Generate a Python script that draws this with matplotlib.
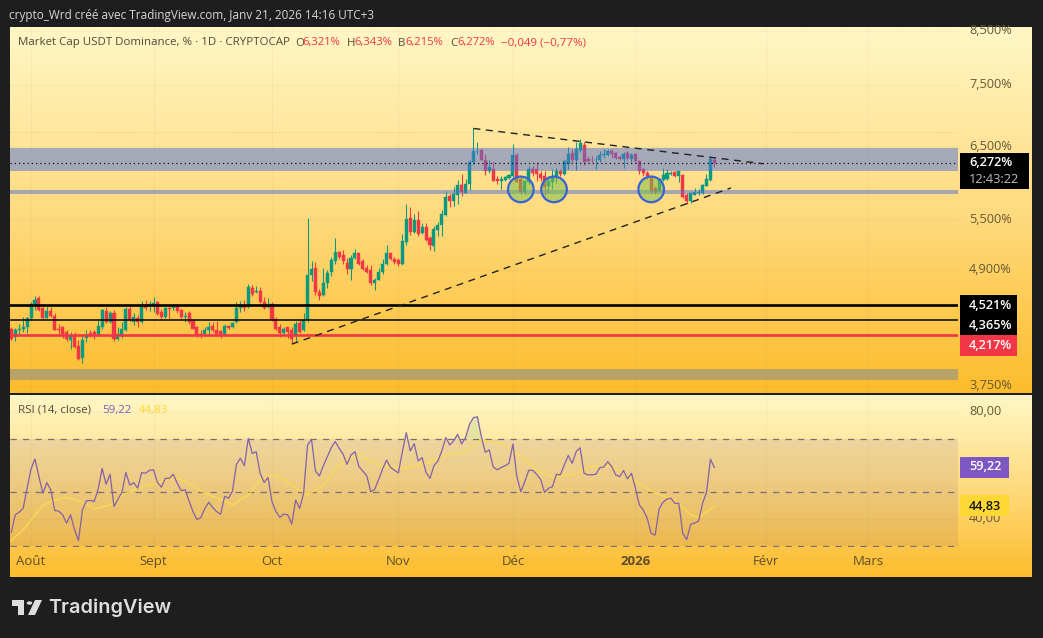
import numpy as np
import matplotlib
matplotlib.use("Agg")
import matplotlib.pyplot as plt
from matplotlib.colors import LinearSegmentedColormap
from matplotlib.patches import Rectangle, Polygon, Circle
from matplotlib.ticker import FixedLocator, FixedFormatter, NullLocator
from matplotlib.transforms import ScaledTranslation

plt.rcParams['font.family'] = ['Open Sans', 'DejaVu Sans']

opens = [4.28,4.20,4.27,4.28,4.30,4.39,4.53,4.59,4.49,4.39,4.46,4.41,4.28,4.30,4.25,4.17,4.22,4.11,4.00,4.19,
 4.24,4.25,4.23,4.30,4.46,4.35,4.44,4.18,4.22,4.27,4.48,4.35,4.39,4.35,4.52,4.51,4.51,4.55,4.45,4.40,
 4.49,4.49,4.52,4.47,4.40,4.44,4.36,4.30,4.23,4.23,4.27,4.31,4.27,4.26,4.23,4.31,4.30,4.35,4.49,4.52,
 4.50,4.70,4.66,4.67,4.55,4.50,4.53,4.38,4.30,4.24,4.30,4.27,4.21,4.34,4.27,4.37,4.84,4.92,4.66,4.62,
 4.75,4.88,5.00,5.11,5.07,4.98,4.91,5.04,5.10,5.00,4.92,4.90,4.75,4.79,4.88,4.97,5.09,5.03,5.01,4.97,
 5.23,5.52,5.35,5.50,5.33,5.41,5.28,5.18,5.37,5.43,5.56,5.81,5.74,5.83,5.96,5.85,5.97,6.29,6.44,6.46,
 6.32,6.15,6.19,6.04,6.01,6.03,6.06,6.09,6.39,6.05,5.87,6.00,6.18,6.18,6.12,6.08,5.95,6.00,6.08,6.16,
 6.11,6.26,6.41,6.31,6.46,6.54,6.33,6.32,6.31,6.31,6.38,6.39,6.45,6.42,6.36,6.33,6.42,6.33,6.40,6.30,
 6.18,6.13,6.08,5.92,5.88,6.03,6.05,6.11,6.14,6.09,6.10,5.82,5.75,5.83,5.85,5.85,5.95,6.03,6.321]
highs = [4.30,4.29,4.33,4.40,4.40,4.55,4.61,4.61,4.50,4.51,4.50,4.44,4.33,4.31,4.27,4.25,4.25,4.17,4.21,4.27,
 4.27,4.27,4.38,4.48,4.50,4.46,4.47,4.30,4.35,4.50,4.51,4.44,4.42,4.56,4.57,4.56,4.60,4.56,4.48,4.50,
 4.50,4.53,4.53,4.48,4.45,4.46,4.38,4.31,4.27,4.30,4.35,4.35,4.36,4.27,4.33,4.32,4.35,4.55,4.56,4.57,
 4.74,4.73,4.72,4.71,4.60,4.59,4.55,4.40,4.33,4.30,4.30,4.30,4.36,4.37,4.44,5.52,5.00,4.99,4.69,4.92,
 4.90,5.05,5.27,5.12,5.13,5.04,5.07,5.14,5.10,5.02,4.96,4.96,4.81,4.92,5.03,5.19,5.10,5.05,5.04,5.32,
 5.71,5.67,5.57,5.61,5.46,5.46,5.30,5.42,5.47,5.63,5.88,5.84,5.93,6.03,6.11,6.04,6.32,6.79,6.58,6.47,
 6.40,6.32,6.30,6.09,6.09,6.09,6.11,6.55,6.42,6.09,6.03,6.22,6.22,6.28,6.16,6.16,6.09,6.19,6.20,6.18,
 6.32,6.50,6.47,6.58,6.63,6.58,6.37,6.37,6.37,6.45,6.47,6.48,6.47,6.43,6.38,6.43,6.44,6.42,6.42,6.32,
 6.20,6.16,6.09,5.95,6.06,6.20,6.18,6.15,6.16,6.17,6.11,5.85,5.87,5.92,5.90,5.97,6.11,6.37,6.343]
lows = [4.17,4.16,4.23,4.25,4.24,4.37,4.47,4.46,4.38,4.39,4.40,4.27,4.23,4.19,4.16,4.08,4.09,3.98,3.95,4.15,
 4.20,4.18,4.22,4.28,4.34,4.34,4.16,4.17,4.19,4.26,4.36,4.32,4.30,4.34,4.47,4.46,4.45,4.42,4.38,4.39,
 4.38,4.47,4.44,4.37,4.35,4.33,4.28,4.20,4.19,4.21,4.22,4.25,4.22,4.19,4.22,4.28,4.29,4.34,4.45,4.46,
 4.49,4.61,4.65,4.54,4.48,4.49,4.36,4.27,4.20,4.23,4.19,4.14,4.16,4.24,4.26,4.35,4.78,4.62,4.57,4.61,
 4.70,4.83,4.97,5.03,4.97,4.85,4.79,5.02,4.96,4.90,4.87,4.73,4.68,4.79,4.85,4.96,5.01,4.97,4.95,4.96,
 5.19,5.31,5.33,5.30,5.32,5.24,5.13,5.12,5.30,5.30,5.55,5.67,5.68,5.70,5.81,5.85,5.89,6.25,6.40,6.31,
 6.10,6.13,6.01,5.97,5.90,6.02,6.04,6.07,6.00,5.84,5.84,5.98,6.08,6.02,6.02,5.82,5.85,5.91,5.99,6.09,
 6.10,6.18,6.29,6.17,6.43,6.24,6.28,6.28,6.18,6.29,6.35,6.37,6.35,6.33,6.32,6.20,6.32,6.29,6.27,6.11,
 6.09,6.05,5.85,5.84,5.86,6.02,6.03,6.10,6.07,6.00,5.79,5.70,5.72,5.82,5.82,5.84,5.94,6.02,6.215]
closes = [4.18,4.27,4.28,4.30,4.39,4.53,4.57,4.47,4.39,4.46,4.41,4.27,4.27,4.23,4.18,4.22,4.10,3.99,4.17,4.22,
 4.22,4.22,4.31,4.47,4.35,4.44,4.18,4.23,4.28,4.48,4.37,4.40,4.35,4.52,4.49,4.53,4.54,4.43,4.40,4.49,
 4.48,4.52,4.46,4.40,4.41,4.35,4.28,4.22,4.22,4.27,4.30,4.27,4.23,4.22,4.31,4.29,4.34,4.49,4.52,4.49,
 4.71,4.64,4.67,4.55,4.49,4.52,4.37,4.28,4.24,4.28,4.25,4.18,4.33,4.25,4.37,4.84,4.91,4.66,4.61,4.75,
 4.87,5.01,5.11,5.05,5.00,4.91,5.04,5.09,4.97,4.91,4.88,4.75,4.79,4.88,4.97,5.09,5.02,4.99,4.97,5.24,
 5.51,5.35,5.50,5.32,5.41,5.25,5.19,5.39,5.43,5.57,5.80,5.74,5.84,5.96,5.86,5.98,6.29,6.44,6.45,6.32,
 6.16,6.21,6.02,6.01,6.04,6.07,6.10,6.39,6.00,5.86,6.01,6.18,6.13,6.11,6.06,5.93,6.01,6.09,6.16,6.11,
 6.30,6.40,6.31,6.47,6.56,6.28,6.30,6.31,6.32,6.39,6.40,6.45,6.40,6.35,6.33,6.40,6.34,6.39,6.30,6.16,
 6.13,6.08,5.88,5.87,6.04,6.10,6.13,6.13,6.08,6.16,5.80,5.75,5.85,5.86,5.87,5.96,6.04,6.33,6.272]

rsi = [35.1,41.6,42.6,44.0,51.5,58.7,62.4,55.8,49.6,53.6,50.9,43.2,43.0,41.6,38.5,41.6,36.2,32.0,43.4,46.8,
 47.0,46.6,51.2,58.9,53.0,56.7,44.7,47.5,49.9,57.4,52.7,53.6,51.5,57.3,57.1,58.2,58.4,53.7,51.9,55.2,
 55.2,56.7,53.4,50.6,51.0,46.8,42.8,39.8,40.6,44.0,46.3,44.3,42.8,41.8,48.5,47.8,50.5,60.4,62.7,59.9,
 70.1,64.5,65.1,57.1,53.7,55.5,46.5,42.8,40.7,41.9,41.6,38.2,47.1,44.0,49.6,67.6,69.7,57.9,56.1,59.9,
 63.2,66.6,68.9,66.4,64.2,60.4,63.9,65.1,
 59.6,57.9,56.1,50.2,51.1,54.8,58.7,62.0,59.3,58.2,57.2,65.1,72.2,65.4,68.1,61.7,62.9,57.4,55.2,59.9,
 61.7,65.4,70.4,67.6,69.1,71.6,68.0,70.4,75.3,77.8,78.1,70.7,64.9,65.8,59.4,58.4,59.2,59.9,60.8,68.0,
 55.8,50.2,54.0,58.2,58.2,56.7,54.8,50.0,51.5,52.1,56.7,56.5,60.2,63.7,60.8,65.1,66.6,57.1,56.5,56.5,
 56.7,59.2,59.4,61.4,59.6,56.5,55.8,58.1,55.0,57.1,51.5,45.3,43.4,40.3,34.7,34.1,43.8,46.3,47.5,47.8,
 45.9,45.9,34.7,32.4,38.1,38.5,39.3,45.9,49.9,62.3,59.22]
rsi_ma_days = [0,3,5.6,8,11,14,17,21,25,28,33,37,41,45,49,54,56,60,63,67,71,75,79,83,88,
 93,99,105,110,115,119,124,129,133,137,142,147,152,157,163,168,172,174,178]
rsi_ma = [32.0,36.0,40.9,45.3,47.1,48.0,46.8,43.8,45.3,49.0,52.1,53.4,55.8,53.4,49.6,46.8,45.3,49.0,54.6,56.5,52.7,49.0,52.7,60.2,63.9,
 60.2,58.9,60.8,63.9,65.1,69.5,68.2,63.3,58.3,55.8,56.5,59.6,59.6,55.2,49.6,47.1,41.6,40.6,44.83]

price_ticks = [8.5, 7.5, 6.5, 5.5, 4.9, 3.75]
price_labels = ['8,500%', '7,500%', '6,500%', '5,500%', '4,900%', '3,750%']
rsi_ticks = [80, 40]
rsi_labels = ['80,00', '40,00']
month_days = [5, 36, 66, 98, 127, 158, 191, 217]
month_labels = ['Août', 'Sept', 'Oct', 'Nov', 'Déc', '2026', 'Févr', 'Mars']
levels = [4.521, 4.365, 4.217]
last_price = 6.272

W, H = 1043, 638
FRAME = '#1E1E1E'
GREEN, RED = '#089981', '#F23645'
TXT = '#665835'
LEG = '#4F4A3A'

def axbox(x0, y0, x1, y1):
    return [x0 / W, 1 - y1 / H, (x1 - x0) / W, (y1 - y0) / H]

def ftext(x, y, s, **kw):
    kw.setdefault('va', 'center')
    kw.setdefault('ha', 'left')
    kw.setdefault('fontsize', 8.3)
    fig.text(x / W, 1 - (y + 1) / H, s, **kw)

def frect(x0, y0, x1, y1, color, z=10):
    fig.add_artist(Rectangle((x0 / W, 1 - y1 / H), (x1 - x0) / W, (y1 - y0) / H,
                             transform=fig.transFigure, facecolor=color, edgecolor='none', zorder=z))

fig = plt.figure(figsize=(W / 100, H / 100), dpi=100, facecolor=FRAME)
grad = LinearSegmentedColormap.from_list('g', ['#FFF7C6', '#FFDB80', '#FDBC2C'])
for box in [(10, 27, 1032, 393), (10, 394.5, 1032, 577)]:
    bg = fig.add_axes(axbox(*box), zorder=0)
    bg.imshow(np.linspace(0, 1, 256)[:, None], aspect='auto', cmap=grad)
    bg.axis('off')

days = np.arange(len(closes))
xlim = ((10 - 11.3) / 3.95, (958 - 11.3) / 3.95)
up2 = ScaledTranslation(0, 2 / 72 * 0.72, fig.dpi_scale_trans)

# ---------- price pane
ax = fig.add_axes(axbox(10, 27, 958, 393), zorder=2)
ax.patch.set_alpha(0)
ax.set_yscale('log')
ax.set_xlim(*xlim)
ax.set_ylim(3.690, 8.579)
o, h, l, c = map(np.array, (opens, highs, lows, closes))
col = np.where(c >= o, GREEN, RED)
ax.vlines(days, l, h, colors=col, lw=0.75, zorder=2)
ax.bar(days, np.abs(c - o), bottom=np.minimum(o, c), width=0.76, color=col,
       edgecolor=col, linewidth=0.3, zorder=2.1)
ax.axhspan(6.16, 6.49, color='#4D71DC', alpha=0.5, lw=0, zorder=3)
ax.axhspan(5.837, 5.892, color='#4D71DC', alpha=0.5, lw=0, zorder=3)
ax.axhspan(3.802, 3.90, color='#75879A', alpha=0.5, lw=0, zorder=3)
ax.axhline(6.74, color='#B9A46A', lw=0.7, ls=(0, (1, 3)), alpha=0.5, zorder=1)
ax.axhline(last_price, color='#111111', lw=0.9, ls=(0, (1, 2.4)), zorder=4)
ax.axhline(levels[0], color='black', lw=1.9, zorder=4)
ax.axhline(levels[1], color='black', lw=1.1, zorder=4)
ax.axhline(levels[2], color=RED, lw=1.9, zorder=4)
ax.plot([117, 190.3], [6.79, 6.26], color='#222222', lw=1, ls=(0, (5, 4)), zorder=4)
ax.plot([71, 182.2], [4.13, 5.92], color='#222222', lw=1, ls=(0, (5, 4)), zorder=4)
ax.scatter([129, 137.4, 162], [5.9, 5.9, 5.9], s=340, facecolor='#7CC04A', alpha=0.55,
           edgecolor='none', zorder=3.4)
ax.scatter([129, 137.4, 162], [5.9, 5.9, 5.9], s=340, facecolor='none',
           edgecolor='#3A62D8', linewidth=1.6, zorder=3.5)
ax.yaxis.tick_right()
ax.yaxis.set_major_locator(FixedLocator(price_ticks))
ax.yaxis.set_major_formatter(FixedFormatter(price_labels))
ax.yaxis.set_minor_locator(NullLocator())
ax.xaxis.set_major_locator(FixedLocator(month_days))
ax.xaxis.set_minor_locator(NullLocator())
ax.tick_params(axis='y', length=0, pad=8, labelsize=9.2, labelcolor=TXT)
ax.tick_params(axis='x', length=0, labelbottom=False)
ax.grid(True, color='#8A7A50', alpha=0.06, lw=0.8)
for s in ax.spines.values():
    s.set_visible(False)
for t in ax.yaxis.get_major_ticks():
    t.label2.set_transform(t.label2.get_transform() + up2)

# ---------- RSI pane
ar = fig.add_axes(axbox(10, 394.5, 958, 547), zorder=2)
ar.patch.set_alpha(0)
ar.set_xlim(*xlim)
ar.set_ylim(50 - (547 - 492.3) / 2.685, 50 + (492.3 - 394.5) / 2.685)
ar.axhspan(30, 70, color='#7A5A80', alpha=0.13, lw=0, zorder=1)
for v in (70, 50, 30):
    ar.axhline(v, color='#7A6E78', lw=0.9, ls=(0, (5, 5)), zorder=2)
r = np.array(rsi)
ar.fill_between(days, 70, r, where=r > 70, interpolate=True, color='#5CC08A', alpha=0.16, lw=0, zorder=2)
ar.plot(rsi_ma_days, rsi_ma, color='#FBDD4F', lw=1.2, alpha=0.75, zorder=3)
ar.plot(days, rsi, color='#8460AD', lw=0.9, zorder=4)
ar.yaxis.tick_right()
ar.yaxis.set_major_locator(FixedLocator(rsi_ticks))
ar.yaxis.set_major_formatter(FixedFormatter(rsi_labels))
ar.xaxis.set_major_locator(FixedLocator(month_days))
ar.xaxis.set_major_formatter(FixedFormatter(month_labels))
ar.tick_params(axis='y', length=0, pad=8, labelsize=9.2, labelcolor=TXT)
ar.tick_params(axis='x', length=0, pad=6, labelsize=9.5, labelcolor='#5E4E2A')
ar.grid(True, color='#8A7A50', alpha=0.06, lw=0.8)
for lab in ar.get_xticklabels():
    if lab.get_text() == '2026':
        lab.set_fontweight('bold')
for s in ar.spines.values():
    s.set_visible(False)
for t in ar.yaxis.get_major_ticks():
    t.label2.set_transform(t.label2.get_transform() + up2)

# ---------- header and legend texts
ftext(9, 15, 'crypto_Wrd créé avec TradingView.com, Janv 21, 2026 14:16 UTC+3', color='#D6D6D6', fontsize=8.5)
ftext(18, 42, 'Market Cap USDT Dominance, % · 1D · CRYPTOCAP', color=LEG, fontsize=8.25)
for xl, xv, key, val in [(295, 302, 'O', '6,321%'), (347, 354, 'H', '6,343%'),
                         (398, 405, 'B', '6,215%'), (450, 457, 'C', '6,272%')]:
    ftext(xl, 42, key, color=LEG, fontsize=8.25)
    ftext(xv, 42, val, color=RED, fontsize=8.1)
ftext(501, 42, '−0,049 (−0,77%)', color=RED, fontsize=8.25)
ftext(18, 409, 'RSI (14, close)', color=LEG, fontsize=8.25)
ftext(102, 409, '59,22', color='#7E57C2', fontsize=8.25)
ftext(139, 409, '44,83', color='#FDD835', fontsize=8.25)

# ---------- price labels
frect(960, 153, 1029, 189, '#000000')
ftext(969, 161.5, '6,272%', color='white', fontsize=9.2, fontweight='semibold', zorder=11)
ftext(969, 178.5, '12:43:22', color='#BDBDBD', fontsize=9.2, zorder=11)
frect(960, 295, 1017, 335, '#000000')
ftext(969, 304.5, '4,521%', color='white', fontsize=9.2, fontweight='semibold', zorder=11)
ftext(969, 324.5, '4,365%', color='white', fontsize=9.2, fontweight='semibold', zorder=11)
frect(960, 335, 1017, 356, RED)
ftext(969, 344.5, '4,217%', color='white', fontsize=9.2, fontweight='semibold', zorder=11)
frect(960, 456.5, 1009, 477.5, '#7E57C2')
ftext(969, 466, '59,22', color='white', fontsize=9.2, fontweight='semibold', zorder=11)
frect(960, 495, 1009, 516, '#FDD835')
ftext(969, 505, '44,83', color='#111111', fontsize=9.2, fontweight='semibold', zorder=11)

# ---------- logo
def fpoly(pts, color='#DEDEDE'):
    fig.add_artist(Polygon([(x / W, 1 - y / H) for x, y in pts], closed=True,
                           transform=fig.transFigure, facecolor=color, edgecolor='none'))
fpoly([(12, 600), (24, 600), (24, 615), (18, 615), (18, 606), (12, 606)])
fpoly([(35, 600), (42, 600), (35, 615), (28, 615)])
fig.add_artist(Circle((29.5 / W, 1 - 603 / H), 2.8 / W, transform=fig.transFigure, facecolor='#DEDEDE', edgecolor='none'))
ftext(48, 607, 'TradingView', color='#DEDEDE', fontsize=14.3, fontweight='semibold', family=['Inter', 'DejaVu Sans'])

fig.savefig('out.png', dpi=100, facecolor=FRAME)
